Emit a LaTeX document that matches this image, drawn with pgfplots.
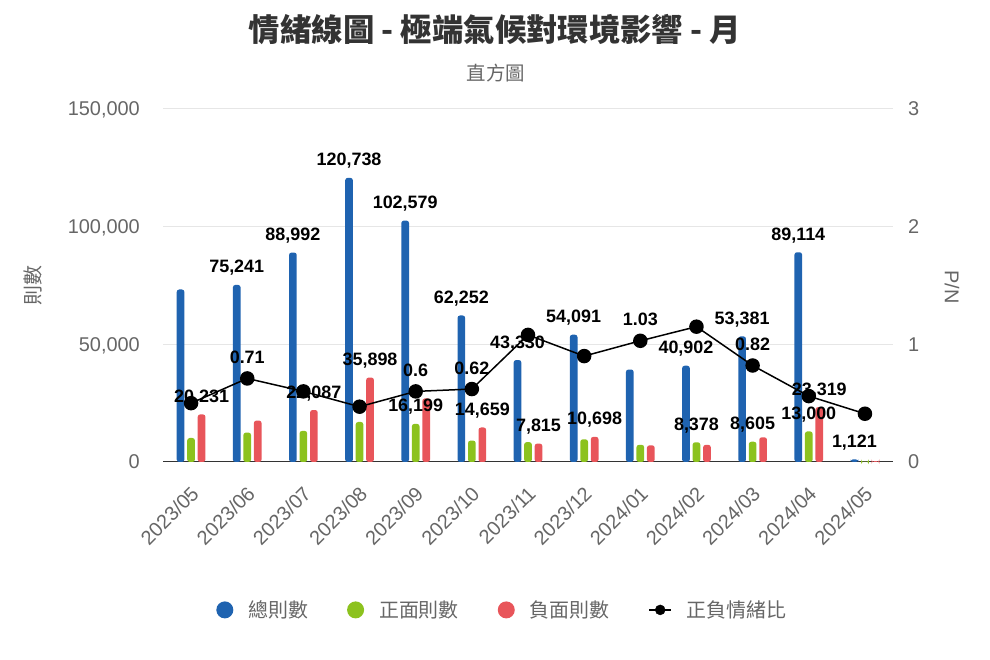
\documentclass[border=0pt]{standalone}
\usepackage{pgfplots}
\pgfplotsset{compat=1.18}
\usepackage{fontspec}
\setmainfont{Liberation Sans}
\newfontfamily\cjk{Noto Sans CJK TC}
\definecolor{cblue}{HTML}{1F63B0}
\definecolor{cgreen}{HTML}{8CC21E}
\definecolor{cred}{HTML}{E8555A}
\definecolor{tgray}{HTML}{666666}
\definecolor{ggray}{HTML}{E6E6E6}
\definecolor{agray}{HTML}{333333}
\begin{document}
\begin{tikzpicture}[x=1bp,y=1bp]
\useasboundingbox (0,0) rectangle (990,660);
\node[font=\cjk\bfseries\fontsize{31.5}{34}\selectfont, text=agray] at (495,630) {情緒線圖 - 極端氣候對環境影響 - 月};
\node[font=\cjk\fontsize{19.5}{22}\selectfont, text=tgray] at (496,587) {直方圖};
\node[font=\cjk\fontsize{20}{22}\selectfont, text=tgray, rotate=90] at (33,374) {則數};
\node[font=\fontsize{20}{22}\selectfont, text=tgray, rotate=-90] at (952,373) {P/N};
\pgfplotsset{
  common/.style={
    at={(163bp,198bp)}, anchor=south west, scale only axis,
    width=730bp, height=353bp, xmin=-0.5, xmax=12.5,
    enlargelimits=false, clip=false,
    tick style={draw=none},
    /pgf/number format/assume math mode=true,
    ticklabel style={font=\fontsize{20}{22}\selectfont, text=tgray},
  }
}
\begin{axis}[common,
  ymin=0, ymax=150000, ytick={0,50000,100000,150000},
  scaled y ticks=false,
  /pgf/number format/1000 sep={,},
  /pgf/number format/fixed,
  yticklabel style={anchor=base east, inner sep=0pt, xshift=-23bp, yshift=-7bp},
  ymajorgrids, grid style={ggray, line width=1bp},
  axis x line*=bottom, axis y line*=left,
  x axis line style={agray, line width=1bp, -},
  y axis line style={draw=none},
  xtick={0,...,12},
  xticklabels={2023/05,2023/06,2023/07,2023/08,2023/09,2023/10,2023/11,2023/12,2024/01,2024/02,2024/03,2024/04,2024/05},
  xticklabel style={xshift=4bp, yshift=-28bp, rotate=45, anchor=east, inner sep=0pt},
  nodes near coords, point meta=explicit symbolic,
  every node near coord/.append style={font=\bfseries\fontsize{18}{20}\selectfont, text=black, anchor=base, inner sep=0pt, yshift=12bp},
  legend columns=4,
  legend style={at={(0.465,-0.419)}, anchor=center, draw=none, fill=none,
    font=\cjk\fontsize{20}{22}\selectfont, text=tgray,
    /tikz/every even column/.append style={column sep=37bp},
    /tikz/every odd column/.append style={column sep=13bp}},
]
\addplot[ybar, fill=cblue, draw=none, bar width=0.137, bar shift=-0.187, rounded corners=2.5bp,
  every node near coord/.append style={xshift=-10.5bp},
  legend image code/.code={\fill[cblue] (0bp,0bp) circle (8.5bp);}]
  coordinates {(0,73300)[] (1,75241)[75,241] (2,88992)[88,992] (3,120738)[120,738] (4,102579)[102,579] (5,62252)[62,252] (6,43330)[43,330] (7,54091)[54,091] (8,39300)[] (9,40902)[40,902] (10,53381)[53,381] (11,89114)[89,114] (12,1121)[1,121]};
\addplot[ybar, fill=cgreen, draw=none, bar width=0.137, bar shift=0, rounded corners=2.5bp,
  legend image code/.code={\fill[cgreen] (0bp,0bp) circle (8.5bp);}]
  coordinates {(0,10200)[] (1,12500)[] (2,13200)[] (3,17000)[] (4,16199)[16,199] (5,9090)[] (6,8440)[] (7,9630)[] (8,7300)[] (9,8378)[8,378] (10,8605)[8,605] (11,13000)[13,000] (12,120)[]};
\addplot[ybar, fill=cred, draw=none, bar width=0.137, bar shift=0.187, rounded corners=2.5bp,
  every node near coord/.append style={xshift=10.5bp},
  legend image code/.code={\fill[cred] (0bp,0bp) circle (8.5bp);}]
  coordinates {(0,20231)[20,231] (1,17600)[] (2,22087)[22,087] (3,35898)[35,898] (4,27000)[] (5,14659)[14,659] (6,7815)[7,815] (7,10698)[10,698] (8,7090)[] (9,7285)[] (10,10494)[] (11,23319)[23,319] (12,330)[]};
\addlegendimage{legend image code/.code={\draw[black, line width=1.5bp] (-11bp,0bp)--(11bp,0bp); \fill[black] (0bp,0bp) circle (5bp);}}
\legend{總則數,正面則數,負面則數,正負情緒比}
\end{axis}
\begin{axis}[common,
  ymin=0, ymax=3, ytick={0,1,2,3},
  axis x line=none, axis y line*=right, y axis line style={draw=none},
  yticklabel style={anchor=base west, inner sep=0pt, xshift=15bp, yshift=-7bp},
  nodes near coords, point meta=explicit symbolic,
  every node near coord/.append style={font=\bfseries\fontsize{18}{20}\selectfont, text=black, anchor=base, inner sep=0pt, yshift=15bp},
]
\addplot[black, line width=1.5bp, mark=*, mark size=6.5bp, mark options={fill=black}]
  coordinates {(0,0.50)[] (1,0.71)[0.71] (2,0.60)[] (3,0.47)[] (4,0.60)[0.6] (5,0.62)[0.62] (6,1.08)[] (7,0.90)[] (8,1.03)[1.03] (9,1.15)[] (10,0.82)[0.82] (11,0.56)[] (12,0.41)[]};
\end{axis}
\end{tikzpicture}
\end{document}
